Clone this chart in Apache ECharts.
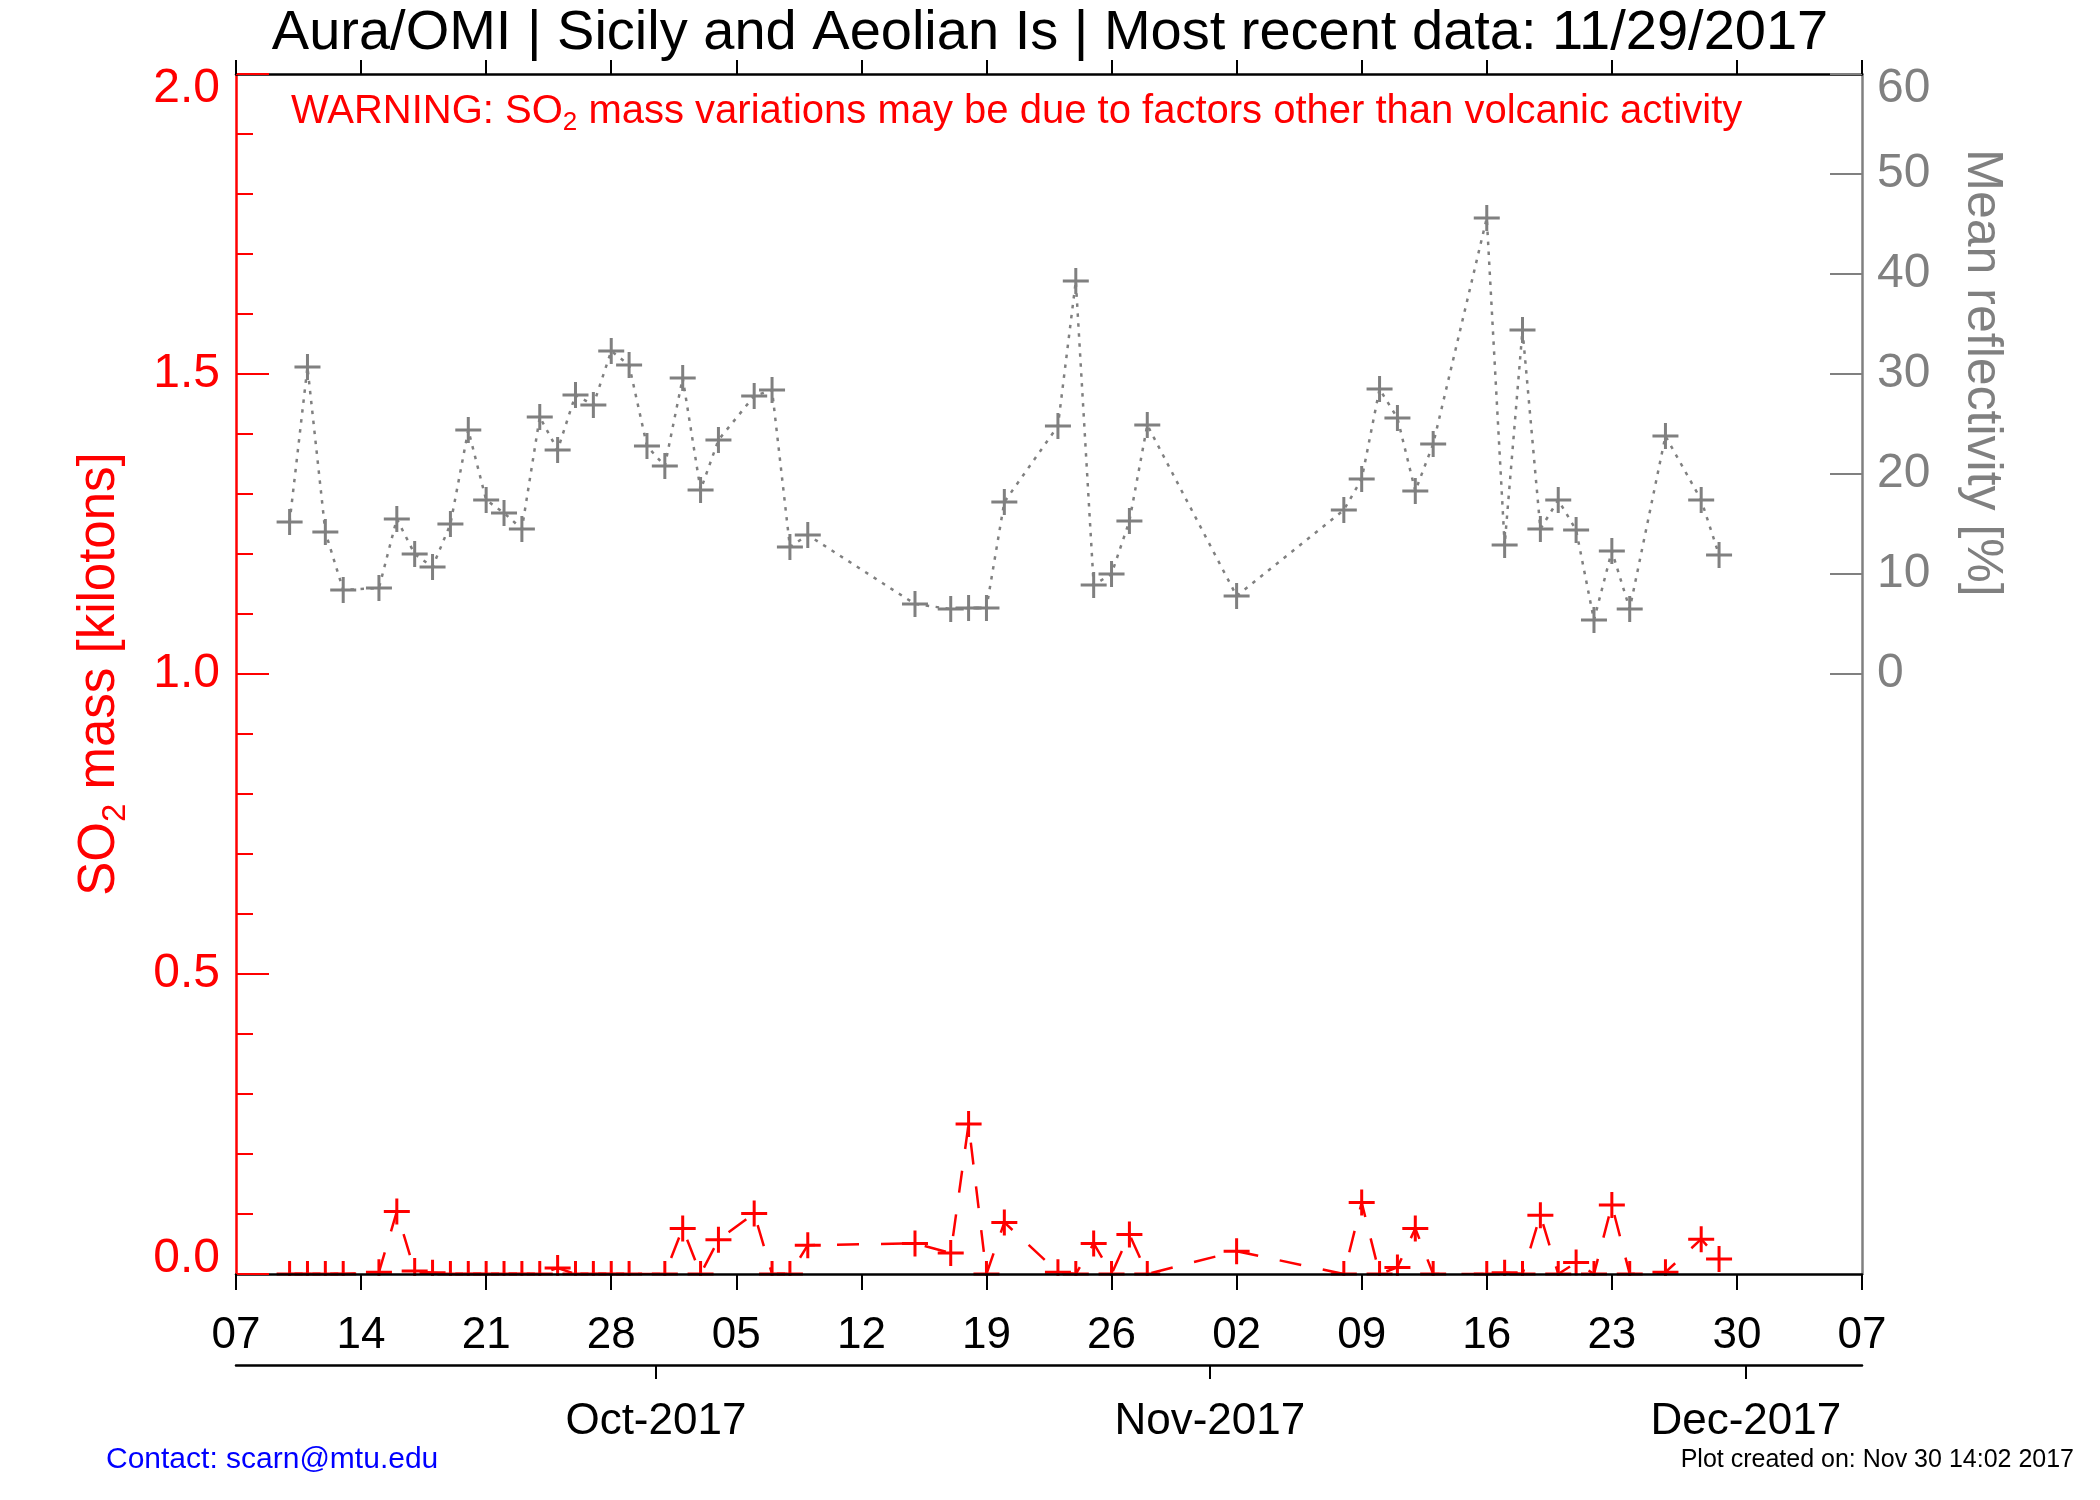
<!DOCTYPE html>
<html>
<head>
<meta charset="utf-8">
<script src="https://cdn.jsdelivr.net/npm/echarts@6/dist/echarts.min.js"></script>
<style>
html,body{margin:0;padding:0;background:#fff;}
#chart{width:2100px;height:1500px;}
</style>
</head>
<body>
<div id="chart"></div>
<script>
// ---------- data ----------
const baseDate = '2017-09-07';          // left end of the time axis
const axisDays = 91;                    // Sep 07 -> Dec 07
const tickStepDays = 7;

const dates = [
  '2017-09-10','2017-09-11','2017-09-12','2017-09-13','2017-09-15','2017-09-16','2017-09-17','2017-09-18',
  '2017-09-19','2017-09-20','2017-09-21','2017-09-22','2017-09-23','2017-09-24','2017-09-25','2017-09-26',
  '2017-09-27','2017-09-28','2017-09-29','2017-09-30','2017-10-01','2017-10-02','2017-10-03','2017-10-04',
  '2017-10-06','2017-10-07','2017-10-08','2017-10-09','2017-10-15','2017-10-17','2017-10-18','2017-10-19',
  '2017-10-20','2017-10-23','2017-10-24','2017-10-25','2017-10-26','2017-10-27','2017-10-28','2017-11-02',
  '2017-11-08','2017-11-09','2017-11-10','2017-11-11','2017-11-12','2017-11-13','2017-11-16','2017-11-17',
  '2017-11-18','2017-11-19','2017-11-20','2017-11-21','2017-11-22','2017-11-23','2017-11-24','2017-11-26',
  '2017-11-28','2017-11-29'
];

// SO2 mass [kilotons] (null = not shown)
const so2Mass = [
  0, 0, 0, 0, 0.003, 0.104, 0.005, 0.002,
  0, 0, 0, 0, 0, 0, 0.010, 0,
  0, 0, 0, null, 0, 0.076, 0, 0.057,
  0.101, 0, 0, 0.048, 0.051, 0.035, 0.250, 0,
  0.086, 0.003, 0, 0.051, 0, 0.066, 0, 0.038,
  0, 0.119, 0, 0.011, 0.076, 0, 0, 0.002,
  0, 0.098, 0, 0.019, 0, 0.115, 0, 0.003,
  0.058, 0.025
];

// Mean reflectivity [%]
const reflectivity = [
  15.2, 30.7, 14.2, 8.4, 8.6, 15.5, 12.0, 10.7,
  15.0, 24.4, 17.4, 16.1, 14.5, 25.7, 22.4, 27.9,
  26.9, 32.3, 30.9, 22.8, 20.8, 29.6, 18.4, 23.4,
  27.8, 28.4, 12.7, 13.9, 7.0, 6.5, 6.6, 6.6,
  17.2, 24.8, 39.3, 8.9, 10.0, 15.3, 24.9, 7.8,
  16.4, 19.5, 28.5, 25.6, 18.3, 23.0, 45.6, 12.9,
  34.4, 14.5, 17.4, 14.4, 5.4, 12.3, 6.5, 23.8,
  17.4, 11.9
];

const monthTickDates = ['2017-10-01', '2017-11-01', '2017-12-01'];
const monthTickLabels = ['Oct-2017', 'Nov-2017', 'Dec-2017'];
const reflTicks = [0, 10, 20, 30, 40, 50, 60];

const titleText = 'Aura/OMI | Sicily and Aeolian Is | Most recent data: 11/29/2017';
const warningParts = ['WARNING: SO', '2', ' mass variations may be due to factors other than volcanic activity'];
const leftNameParts = ['SO', '2', ' mass [kilotons]'];
const rightName = 'Mean reflectivity [%]';
const contactText = 'Contact: scarn@mtu.edu';
const createdText = 'Plot created on: Nov 30 14:02 2017';

// ---------- helpers ----------
const DAY = 86400000;
function toMs(s){ const p = s.split('-').map(Number); return Date.UTC(p[0], p[1]-1, p[2]); }
const base = toMs(baseDate);
function dayOf(s){ return Math.round((toMs(s) - base) / DAY); }
function dayLabel(v){ const d = new Date(base + v * DAY); const n = d.getUTCDate(); return (n < 10 ? '0' : '') + n; }

const so2Data = dates.map((d, i) => [dayOf(d), so2Mass[i]]);
const reflData = dates.map((d, i) => [dayOf(d), reflectivity[i]]);
// month boundaries are marked at the start of the month (midnight, half a day before the noon-centred daily values)
const monthPos = monthTickDates.map(d => dayOf(d) - 0.5);

const FONT = 'Liberation Sans';
const RED = '#ff0000', GRAY = '#808080', BLACK = '#000000', BLUE = '#0000ff';
const PLUS = 'path://M11.5,0h3v11.5h11.5v3h-11.5v11.5h-3v-11.5h-11.5v-3h11.5z';

const chart = echarts.init(document.getElementById('chart'), null, {renderer: 'canvas'});

const grid = {left: 236, right: 238, top: 74, bottom: 226};

chart.setOption({
  animation: false,
  backgroundColor: '#ffffff',
  textStyle: {fontFamily: FONT},
  grid: grid,
  xAxis: [
    {
      type: 'value', position: 'bottom', min: 0, max: axisDays, interval: tickStepDays, z: 10,
      axisLine: {show: true, onZero: false, lineStyle: {color: BLACK, width: 2.5}},
      axisTick: {show: true, inside: false, length: 16, lineStyle: {color: BLACK, width: 2}},
      axisLabel: {show: true, margin: 40, fontSize: 44, color: BLACK, fontFamily: FONT, formatter: dayLabel},
      splitLine: {show: false}
    },
    {
      type: 'value', position: 'top', min: 0, max: axisDays, interval: tickStepDays, z: 10,
      axisLine: {show: true, onZero: false, lineStyle: {color: BLACK, width: 2.5}},
      axisTick: {show: true, inside: false, length: 14, lineStyle: {color: BLACK, width: 2}},
      axisLabel: {show: false},
      splitLine: {show: false}
    },
    {
      type: 'value', position: 'bottom', offset: 91, min: 0, max: axisDays, z: 10,
      axisLine: {show: true, onZero: false, lineStyle: {color: BLACK, width: 2.5}},
      axisTick: {show: true, inside: false, length: 14, customValues: monthPos, lineStyle: {color: BLACK, width: 2}},
      axisLabel: {show: true, margin: 35, fontSize: 44, color: BLACK, fontFamily: FONT, customValues: monthPos,
        formatter: function(v){
          let best = -1, bd = 1e9;
          monthPos.forEach((p, i) => { const dd = Math.abs(p - v); if (dd < bd) { bd = dd; best = i; } });
          return bd < 0.01 ? monthTickLabels[best] : '';
        }},
      splitLine: {show: false}
    }
  ],
  yAxis: [
    {
      type: 'value', position: 'left', min: 0, max: 2, interval: 0.5, z: 10,
      axisLine: {show: true, onZero: false, lineStyle: {color: RED, width: 2.5}},
      axisTick: {show: true, inside: true, length: 33, lineStyle: {color: RED, width: 2}},
      minorTick: {show: true, splitNumber: 5, length: 17, lineStyle: {color: RED, width: 2}},
      axisLabel: {
        show: true, margin: 16, fontSize: 48, color: RED, fontFamily: FONT,
        formatter: function(v){
          const t = v.toFixed(1);
          if (v >= 2) return '{top|' + t + '}';
          if (v <= 0) return '{bot|' + t + '}';
          return t;
        },
        rich: {
          top: {fontSize: 48, color: RED, fontFamily: FONT, padding: [30, 0, 0, 0]},
          bot: {fontSize: 48, color: RED, fontFamily: FONT, padding: [0, 0, 30, 0]}
        }
      },
      splitLine: {show: false},
      name: '{n|' + leftNameParts[0] + '}{s|' + leftNameParts[1] + '}{n|' + leftNameParts[2] + '}',
      nameLocation: 'middle', nameRotate: 90, nameGap: 104,
      nameTextStyle: {
        color: RED, fontSize: 51, fontFamily: FONT,
        rich: {
          n: {color: RED, fontSize: 51, fontFamily: FONT},
          s: {color: RED, fontSize: 33, fontFamily: FONT, padding: [32, 0, 0, 0]}
        }
      }
    },
    {
      type: 'value', position: 'right', min: -60, max: 60, interval: 10, z: 10,
      axisLine: {show: true, onZero: false, lineStyle: {color: GRAY, width: 2.5}},
      axisTick: {show: true, inside: true, length: 32, customValues: reflTicks, lineStyle: {color: GRAY, width: 2}},
      axisLabel: {
        show: true, margin: 15, fontSize: 48, color: GRAY, fontFamily: FONT, customValues: reflTicks,
        formatter: function(v){
          if (v < 0) return '';
          if (v >= 60) return '{top|' + v + '}';
          return String(v);
        },
        rich: {top: {fontSize: 48, color: GRAY, fontFamily: FONT, padding: [30, 0, 0, 0]}}
      },
      splitLine: {show: false}
    }
  ],
  series: [
    {
      name: 'Reflectivity', type: 'line', xAxisIndex: 0, yAxisIndex: 1, data: reflData,
      symbol: PLUS, symbolSize: 26, showAllSymbol: true, connectNulls: true, clip: true, z: 3,
      itemStyle: {color: GRAY, borderWidth: 0},
      lineStyle: {color: GRAY, width: 2.5, type: [3.5, 6.5]}
    },
    {
      name: 'SO2', type: 'line', xAxisIndex: 0, yAxisIndex: 0, data: so2Data,
      symbol: PLUS, symbolSize: 26, showAllSymbol: true, connectNulls: true, clip: true, z: 4,
      itemStyle: {color: RED, borderWidth: 0},
      lineStyle: {color: RED, width: 2.5, type: [22, 22]}
    }
  ],
  graphic: [
    // hides the part of markers that falls below the lower axis
    {type: 'rect', z: 6, silent: true, shape: {x: 238, y: 1276, width: 1622, height: 16}, style: {fill: '#ffffff'}},
    {type: 'text', z: 20, x: 1050, y: 34, style: {text: titleText, fontSize: 56, fontFamily: FONT, fill: BLACK, align: 'center', verticalAlign: 'middle'}},
    {type: 'text', z: 20, x: 291, y: 112, style: {
      text: '{n|' + warningParts[0] + '}{s|' + warningParts[1] + '}{n|' + warningParts[2] + '}',
      align: 'left', verticalAlign: 'middle',
      rich: {
        n: {fontSize: 40, fontFamily: FONT, fill: RED},
        s: {fontSize: 26, fontFamily: FONT, fill: RED, padding: [22, 0, 0, 0]}
      }
    }},
    {type: 'text', z: 20, x: 1982, y: 373, rotation: -Math.PI / 2, style: {text: rightName, fontSize: 50, fontFamily: FONT, fill: GRAY, align: 'center', verticalAlign: 'middle'}},
    {type: 'text', z: 20, x: 106, y: 1460, style: {text: contactText, fontSize: 30, fontFamily: FONT, fill: BLUE, align: 'left', verticalAlign: 'middle'}},
    {type: 'text', z: 20, x: 2074, y: 1460, style: {text: createdText, fontSize: 25, fontFamily: FONT, fill: BLACK, align: 'right', verticalAlign: 'middle'}}
  ]
});
</script>
</body>
</html>
